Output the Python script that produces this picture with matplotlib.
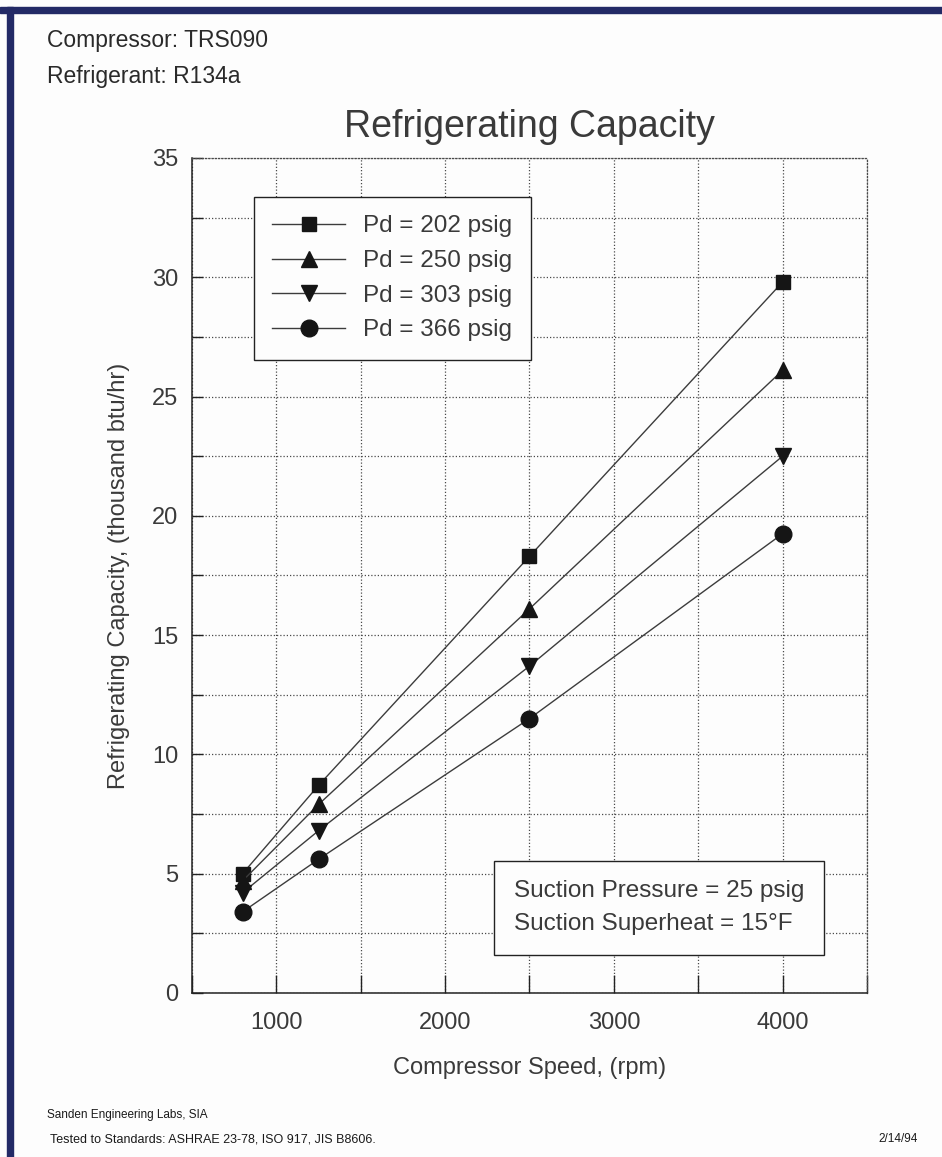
import matplotlib.pyplot as plt
from matplotlib.ticker import MultipleLocator, NullFormatter
from matplotlib.patches import Rectangle

# chart data
speed = [800, 1250, 2500, 4000]
pd_labels = ['Pd = 202 psig', 'Pd = 250 psig', 'Pd = 303 psig', 'Pd = 366 psig']
pd_202 = [5.0, 8.7, 18.3, 29.8]
pd_250 = [4.7, 7.9, 16.1, 26.1]
pd_303 = [4.2, 6.8, 13.7, 22.5]
pd_366 = [3.4, 5.6, 11.5, 19.25]
markers = ['s', '^', 'v', 'o']
x_ticks = [1000, 2000, 3000, 4000]
y_ticks = [0, 5, 10, 15, 20, 25, 30, 35]

plt.rcParams['font.family'] = ['Liberation Sans', 'DejaVu Sans']
narrow = ['Liberation Sans Narrow', 'Liberation Sans', 'DejaVu Sans']
txt = '#3a3a3a'

fig = plt.figure(figsize=(9.42, 11.57), dpi=100)
fig.patch.set_facecolor('#fdfdfd')
ax = fig.add_axes([0.2038, 0.1418, 0.7166, 0.7217])
ax.set_facecolor('#fdfdfd')

# navy scan border on top and left edges
fig.patches.append(Rectangle((0, 1 - 13 / 1157), 1, 6 / 1157, transform=fig.transFigure,
                             color='#232a66', zorder=10))
fig.patches.append(Rectangle((7 / 942, 0), 6 / 942, 1 - 7 / 1157, transform=fig.transFigure,
                             color='#232a66', zorder=10))

series = [pd_202, pd_250, pd_303, pd_366]
sizes = [10, 11, 11, 12]
for vals, lab, m, ms in zip(series, pd_labels, markers, sizes):
    ax.plot(speed, vals, color='#3c3c3c', lw=1.0, marker=m, ms=ms,
            markerfacecolor='#151515', markeredgecolor='#151515', label=lab, zorder=3)

ax.set_xlim(500, 4500)
ax.set_ylim(0, 35)
ax.set_xticks(x_ticks)
ax.xaxis.set_minor_locator(MultipleLocator(500))
ax.xaxis.set_minor_formatter(NullFormatter())
ax.set_yticks(y_ticks)
ax.yaxis.set_minor_locator(MultipleLocator(2.5))

ax.grid(True, which='both', linestyle=(0, (1, 1.6)), color='#4a4a4a', lw=0.9)
ax.tick_params(which='both', direction='in', length=8, width=1.0, color='#222222',
               labelsize=17, labelcolor=txt, pad=10)
ax.tick_params(axis='x', which='both', length=13, pad=14)

for s in ['left', 'bottom']:
    ax.spines[s].set_color('#222222')
    ax.spines[s].set_linewidth(1.1)
for s in ['top', 'right']:
    ax.spines[s].set_linestyle((0, (1, 1.6)))
    ax.spines[s].set_color('#4a4a4a')
    ax.spines[s].set_linewidth(0.9)

ax.set_xlabel('Compressor Speed, (rpm)', fontsize=17, color=txt, labelpad=16)
ax.set_ylabel('Refrigerating Capacity, (thousand btu/hr)', fontsize=17, color=txt, labelpad=16)

leg = ax.legend(loc='upper left', bbox_to_anchor=(0.092, 0.953), fontsize=17.5, frameon=True,
                fancybox=False, handlelength=3.0, handletextpad=0.75, labelspacing=0.52,
                borderpad=0.75, borderaxespad=0)
leg.get_frame().set_edgecolor('#222222')
leg.get_frame().set_linewidth(1.0)
leg.get_frame().set_facecolor('#fdfdfd')
leg.get_frame().set_alpha(1)
for t in leg.get_texts():
    t.set_color(txt)

ax.text(0.692, 0.102, 'Suction Pressure = 25 psig\nSuction Superheat = 15°F', transform=ax.transAxes,
        fontsize=17.5, color=txt, va='center', ha='center', multialignment='left',
        linespacing=1.62, zorder=5,
        bbox=dict(boxstyle='square,pad=0.82', facecolor='#fdfdfd', edgecolor='#222222', lw=1.0))

fig.text(47 / 942, 1 - 47 / 1157, 'Compressor: TRS090', fontsize=16.5, family=narrow,
         color='#2a2a2a', va='baseline')
fig.text(47 / 942, 1 - 83 / 1157, 'Refrigerant: R134a', fontsize=16.5, family=narrow,
         color='#2a2a2a', va='baseline')
fig.text(529 / 942, 1 - 137 / 1157, 'Refrigerating Capacity', fontsize=27, color=txt,
         ha='center', va='baseline')

fig.text(47 / 942, 1 - 1115 / 1157, 'Sanden Engineering Labs, SIA', fontsize=8.5, family=narrow,
         color='#1a1a1a', va='center')
fig.text(50 / 942, 1 - 1139 / 1157, 'Tested to Standards: ASHRAE 23-78, ISO 917, JIS B8606.', fontsize=9,
         family=narrow, color='#1a1a1a', va='center')
fig.text(918 / 942, 1 - 1139 / 1157, '2/14/94', fontsize=8.5, family=narrow, color='#1a1a1a',
         va='center', ha='right')

fig.savefig('out.png', dpi=100)
